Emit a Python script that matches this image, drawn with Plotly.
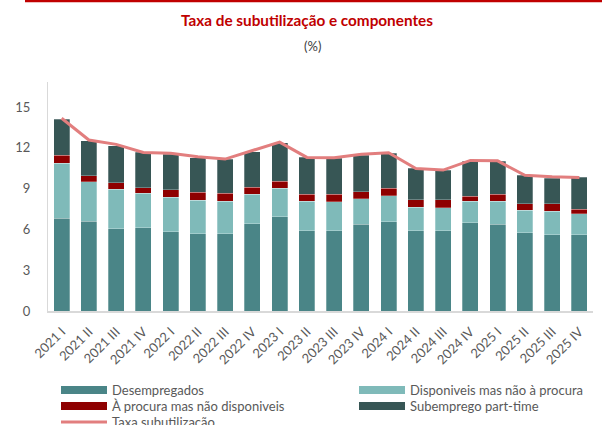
import plotly.graph_objects as go

# quarters
quarters = ['2021 I', '2021 II', '2021 III', '2021 IV',
            '2022 I', '2022 II', '2022 III', '2022 IV',
            '2023 I', '2023 II', '2023 III', '2023 IV',
            '2024 I', '2024 II', '2024 III', '2024 IV',
            '2025 I', '2025 II', '2025 III', '2025 IV']

# components (%)
desempregados = [6.83, 6.61, 6.04, 6.12, 5.82, 5.67, 5.67, 6.41, 6.93, 5.90,
                 5.90, 6.37, 6.56, 5.92, 5.90, 6.48, 6.37, 5.75, 5.60, 5.60]
disponiveis = [4.03, 2.90, 2.91, 2.53, 2.54, 2.49, 2.39, 2.19, 2.11, 2.16,
               2.13, 1.88, 1.91, 1.70, 1.69, 1.60, 1.69, 1.65, 1.73, 1.55]
procura = [0.59, 0.44, 0.48, 0.41, 0.56, 0.57, 0.61, 0.52, 0.52, 0.54,
           0.57, 0.52, 0.55, 0.56, 0.59, 0.37, 0.54, 0.49, 0.56, 0.34]
subemprego = [2.65, 2.58, 2.73, 2.61, 2.61, 2.54, 2.51, 2.60, 2.82, 2.70,
              2.63, 2.70, 2.58, 2.31, 2.19, 2.58, 2.41, 2.09, 1.89, 2.34]
taxa = [14.18, 12.58, 12.26, 11.67, 11.60, 11.35, 11.18, 11.79, 12.43, 11.30,
        11.27, 11.53, 11.64, 10.49, 10.37, 11.08, 11.05, 9.98, 9.87, 9.83]

series = [
    ('Desempregados', desempregados, '#4A8587'),
    ('Disponiveis mas não à procura', disponiveis, '#7FBAB9'),
    ('À procura mas não disponiveis', procura, '#8E0000'),
    ('Subemprego part-time', subemprego, '#375655'),
]
line_color = '#E27E7E'
font = 'Lato'

W, H = 602, 425
L, R, T, B = 48, 9, 82, 114


# pixel -> paper helpers for the hand-made legend / header
def px_x(x):
    return (x - L) / (W - L - R)


def px_y(y):
    return (H - B - y) / (H - T - B)


fig = go.Figure()

for name, vals, col in series:
    fig.add_trace(go.Bar(x=quarters, y=vals, name=name,
                         marker=dict(color=col,
                                     line=dict(color='rgba(255,255,255,0.45)', width=0.6)),
                         showlegend=False))

fig.add_trace(go.Scatter(x=quarters, y=taxa, name='Taxa subutilização',
                         mode='lines', line=dict(color=line_color, width=3),
                         showlegend=False))

fig.update_layout(barmode='stack', bargap=0.415,
                  width=W, height=H,
                  margin=dict(l=L, r=R, t=T, b=B),
                  plot_bgcolor='white', paper_bgcolor='white',
                  font=dict(family=font, size=13, color='#595959'))

fig.update_yaxes(range=[0, 16.85], tickvals=[0, 3, 6, 9, 12, 15],
                 showgrid=False, zeroline=False,
                 showline=True, linecolor='#D9D9D9', linewidth=1,
                 ticks='', ticklabelstandoff=14,
                 tickfont=dict(size=13, color='#595959'))

fig.update_xaxes(showgrid=False, showline=True, linecolor='#D9D9D9', linewidth=2,
                 tickangle=-45, ticks='', ticklabelstandoff=6,
                 tickfont=dict(size=13, color='#595959'))

# header
fig.add_shape(type='line', xref='paper', yref='paper',
              x0=px_x(25), x1=px_x(602), y0=px_y(1), y1=px_y(1),
              line=dict(color='#C00000', width=2.5))
fig.add_annotation(text='<b>Taxa de subutilização e componentes</b>',
                   xref='paper', yref='paper', x=px_x(307), y=px_y(20),
                   xanchor='center', yanchor='middle',
                   showarrow=False, font=dict(family=font, size=15.3, color='#C00000'))
fig.add_annotation(text='(%)', xref='paper', yref='paper', x=px_x(312), y=px_y(46),
                   xanchor='center', yanchor='middle',
                   showarrow=False, font=dict(family=font, size=13, color='#404040'))

# legend (Excel style, wide swatches)
legend_items = [
    ('Desempregados', '#4A8587', 61, 390, 'bar'),
    ('Disponiveis mas não à procura', '#7FBAB9', 359, 390, 'bar'),
    ('À procura mas não disponiveis', '#8E0000', 61, 406, 'bar'),
    ('Subemprego part-time', '#375655', 359, 406, 'bar'),
    ('Taxa subutilização', line_color, 61, 422, 'line'),
]
for label, col, x0, yc, kind in legend_items:
    if kind == 'bar':
        fig.add_shape(type='rect', xref='paper', yref='paper',
                      x0=px_x(x0), x1=px_x(x0 + 46), y0=px_y(yc - 4), y1=px_y(yc + 4),
                      fillcolor=col, line=dict(width=0))
    else:
        fig.add_shape(type='line', xref='paper', yref='paper',
                      x0=px_x(x0), x1=px_x(x0 + 46), y0=px_y(yc), y1=px_y(yc),
                      line=dict(color=col, width=3))
    fig.add_annotation(text=label, xref='paper', yref='paper',
                       x=px_x(x0 + 49), y=px_y(yc), xanchor='left', yanchor='middle',
                       showarrow=False, font=dict(family=font, size=13, color='#595959'))

# page body has a default 8px margin; drop it so the figure sits at (0, 0)
fig.write_html("out.html", config={'displayModeBar': False},
               post_script="document.body.style.margin='0px';")
